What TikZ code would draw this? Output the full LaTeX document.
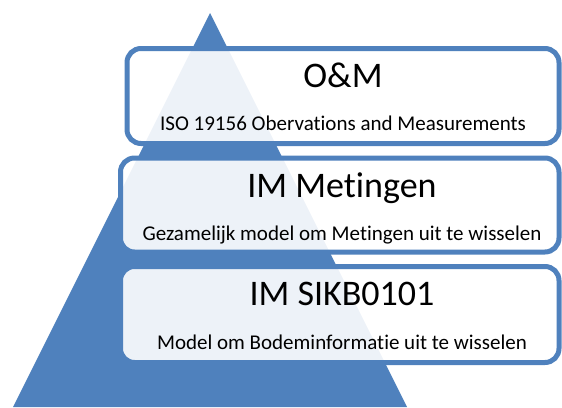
\documentclass[tikz,border=0pt]{standalone}
\usepackage{fontspec}
\setmainfont{Carlito}[Ligatures=NoCommon]
\definecolor{pyrblue}{RGB}{79,129,189}
\tikzset{
  laag/.style={draw=pyrblue, line width=5pt, rounded corners=14pt, fill=white, fill opacity=0.9, inner sep=0pt},
  kop/.style={anchor=base, inner sep=0pt, font=\fontsize{36}{40}\selectfont},
  uitleg/.style={anchor=base, inner sep=0pt, font=\fontsize{21}{24}\selectfont}
}
\begin{document}
\begin{tikzpicture}[x=1pt,y=-1pt]
\useasboundingbox (0,0) rectangle (562,407);
  \fill[pyrblue] (210,13) coordinate(top) -- (13,407) coordinate(L) -- (407,407) coordinate(R) -- cycle;
  % lagen
  \node[laag, minimum width=432pt, minimum height=95pt] (om) at (343,96) {};
  \node[laag, minimum width=438.5pt, minimum height=94pt] (im) at (339.75,205) {};
  \node[laag, minimum width=438.5pt, minimum height=96pt] (sikb) at (339.75,314.5) {};
  \node[kop] (om kop) at (343,87) {O\&M};
  \node[uitleg] (om tekst) at (343,130) {ISO 19156 Obervations and Measurements};
  \node[kop] (im kop) at (342,197) {IM Metingen};
  \node[uitleg] (im tekst) at (342,240) {Gezamelijk model om Metingen uit te wisselen};
  \node[kop] (sikb kop) at (342,305) {IM SIKB0101};
  \node[uitleg] (sikb tekst) at (342,349) {Model om Bodeminformatie uit te wisselen};
\end{tikzpicture}
\end{document}
